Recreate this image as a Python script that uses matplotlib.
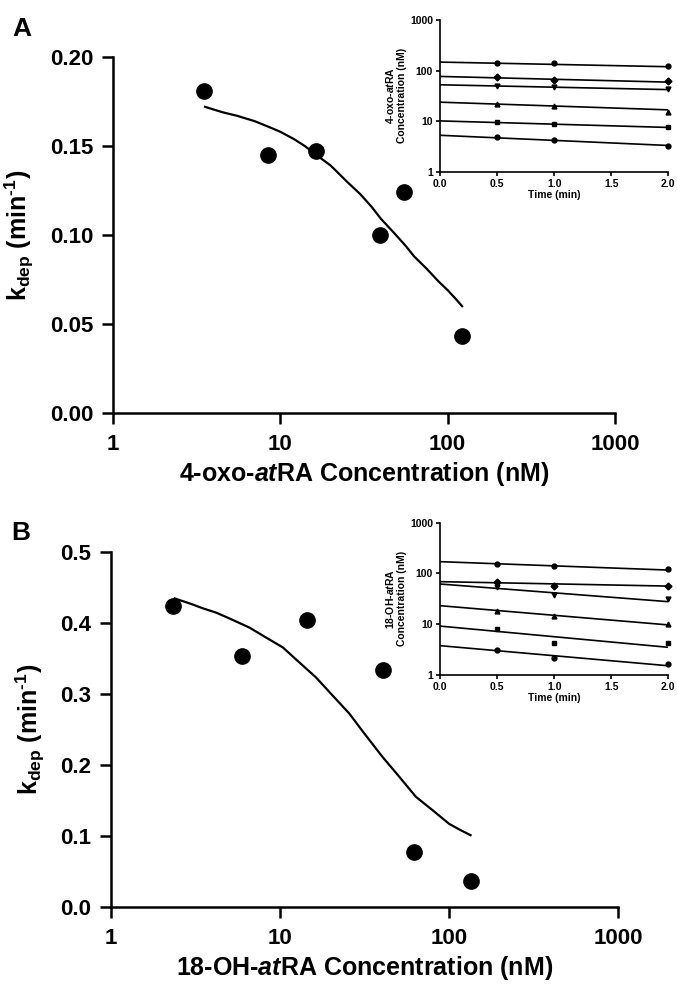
import numpy as np
import matplotlib
matplotlib.use("Agg")
import matplotlib.pyplot as plt
from matplotlib.ticker import FixedLocator, FormatStrFormatter, NullLocator

plt.rcParams['font.family'] = ['Liberation Sans', 'DejaVu Sans']
plt.rcParams['font.weight'] = 'bold'
plt.rcParams['mathtext.fontset'] = 'custom'
plt.rcParams['mathtext.rm'] = 'Liberation Sans:bold'
plt.rcParams['mathtext.bf'] = 'Liberation Sans:bold'
plt.rcParams['mathtext.it'] = 'Liberation Sans:bold:italic'

# panel A: 4-oxo-atRA
a_conc = [3.5, 8.4, 16.4, 39.2, 54.7, 122]
a_kdep = [0.181, 0.145, 0.147, 0.100, 0.124, 0.043]
a_fit_conc = [3.55, 4.5, 5.5, 7, 8.4, 10, 12, 14, 16.4, 20, 25, 30, 35, 40,
              48, 56, 63, 75, 88, 100, 112, 122]
a_fit_kdep = [0.172, 0.169, 0.167, 0.164, 0.161, 0.158, 0.154, 0.150, 0.145,
              0.139, 0.130, 0.123, 0.116, 0.109, 0.101, 0.094, 0.088, 0.081,
              0.074, 0.069, 0.064, 0.060]

# panel B: 18-OH-atRA
b_conc = [2.34, 5.96, 14.4, 40.4, 62.1, 134]
b_kdep = [0.424, 0.353, 0.404, 0.334, 0.077, 0.036]
b_fit_conc = [2.38, 3.0, 3.5, 4.19, 5.0, 6.59, 8.0, 10.4, 13, 16.3, 20, 25.7,
              32, 40.4, 50, 63.6, 80, 100, 115, 134]
b_fit_kdep = [0.434, 0.426, 0.420, 0.414, 0.406, 0.393, 0.381, 0.365, 0.344,
              0.323, 0.300, 0.272, 0.242, 0.211, 0.185, 0.155, 0.136, 0.117,
              0.109, 0.101]

# insets: concentration vs time
times = [0.5, 1.0, 2.0]
fit_times = [0.0, 2.0]
markers = ['o', 'D', 'v', '^', 's', 'o']

a_inset = [[141, 141, 121], [73, 65.7, 61], [50, 47, 43],
           [21.6, 20, 15], [9.4, 8.8, 7.6], [4.87, 4.18, 3.28]]
a_inset_fit = [[147, 119], [76.5, 59], [52.3, 42],
               [23.7, 16.7], [10.1, 7.5], [5.25, 3.3]]

b_inset = [[153, 142, 120], [68.5, 56, 56], [53, 37.4, 31],
           [18.3, 14.6, 10], [8.0, 4.15, 4.16], [3.07, 2.17, 1.6]]
b_inset_fit = [[170, 116], [68.5, 56], [61.6, 27.6],
               [23, 9.6], [9.1, 3.47], [3.74, 1.5]]


def main_axes(fig, rect, conc, kdep, fit_c, fit_k, ymax, ystep, fmt, xlabel):
    ax = fig.add_axes(rect)
    ax.plot(fit_c, fit_k, color='black', lw=1.6, solid_joinstyle='round')
    ax.plot(conc, kdep, 'o', color='black', ms=11, clip_on=False)
    ax.set_xscale('log')
    ax.set_xlim(1, 1000)
    ax.set_ylim(0, ymax)
    ax.xaxis.set_major_locator(FixedLocator([1, 10, 100, 1000]))
    ax.xaxis.set_minor_locator(NullLocator())
    ax.set_xticklabels(['1', '10', '100', '1000'])
    ax.set_yticks(np.arange(0, ymax + ystep / 2, ystep))
    ax.yaxis.set_major_formatter(FormatStrFormatter(fmt))
    for s in ['top', 'right']:
        ax.spines[s].set_visible(False)
    for s in ['left', 'bottom']:
        ax.spines[s].set_linewidth(1.8)
    ax.tick_params(direction='out', length=8, width=1.8, labelsize=16, pad=6)
    ax.tick_params(axis='x', pad=7)
    ax.set_xlabel(xlabel, fontsize=18, fontweight='bold', labelpad=4)
    ax.set_ylabel(r'$\mathrm{k_{dep}}$ (min$^{\text{-1}}$)', fontsize=18,
                  fontweight='bold', labelpad=10)
    return ax


def inset_axes(fig, rect, data, fits, ylabel):
    ax = fig.add_axes(rect)
    ax.patch.set_alpha(0)
    for vals, fit, m in zip(data, fits, markers):
        ax.plot(fit_times, fit, color='black', lw=1.2)
        ax.plot(times, vals, m, color='black', ms=3.5, clip_on=False)
    ax.set_yscale('log')
    ax.set_ylim(1, 1000)
    ax.set_xlim(0, 2)
    ax.yaxis.set_major_locator(FixedLocator([1, 10, 100, 1000]))
    ax.yaxis.set_minor_locator(NullLocator())
    ax.set_yticklabels(['1', '10', '100', '1000'])
    ax.set_xticks([0, 0.5, 1.0, 1.5, 2.0])
    ax.xaxis.set_major_formatter(FormatStrFormatter('%.1f'))
    for s in ['top', 'right']:
        ax.spines[s].set_visible(False)
    for s in ['left', 'bottom']:
        ax.spines[s].set_linewidth(1.2)
    ax.tick_params(direction='out', length=3, width=1.2, labelsize=7.5, pad=2)
    ax.set_xlabel('Time (min)', fontsize=7.5, fontweight='bold', labelpad=1)
    ax.set_ylabel(ylabel, fontsize=7.5, fontweight='bold', labelpad=2)
    return ax


fig = plt.figure(figsize=(6.77, 9.88), dpi=100)

main_axes(fig, [0.1669, 0.582, 0.7415, 0.3603], a_conc, a_kdep, a_fit_conc,
          a_fit_kdep, 0.20, 0.05, '%.2f', r'4-oxo-$\mathit{at}$RA Concentration (nM)')
main_axes(fig, [0.164, 0.082, 0.749, 0.3598], b_conc, b_kdep, b_fit_conc,
          b_fit_kdep, 0.5, 0.1, '%.1f', r'18-OH-$\mathit{at}$RA Concentration (nM)')

inset_axes(fig, [0.65, 0.8262, 0.3372, 0.1536], a_inset, a_inset_fit,
           '4-oxo-$\\mathit{at}$RA\nConcentration (nM)')
inset_axes(fig, [0.65, 0.3171, 0.3372, 0.1539], b_inset, b_inset_fit,
           '18-OH-$\\mathit{at}$RA\nConcentration (nM)')

fig.text(0.032, 0.971, 'A', fontsize=19, fontweight='bold', ha='center', va='center')
fig.text(0.031, 0.461, 'B', fontsize=19, fontweight='bold', ha='center', va='center')

fig.savefig('out.png', dpi=100)
